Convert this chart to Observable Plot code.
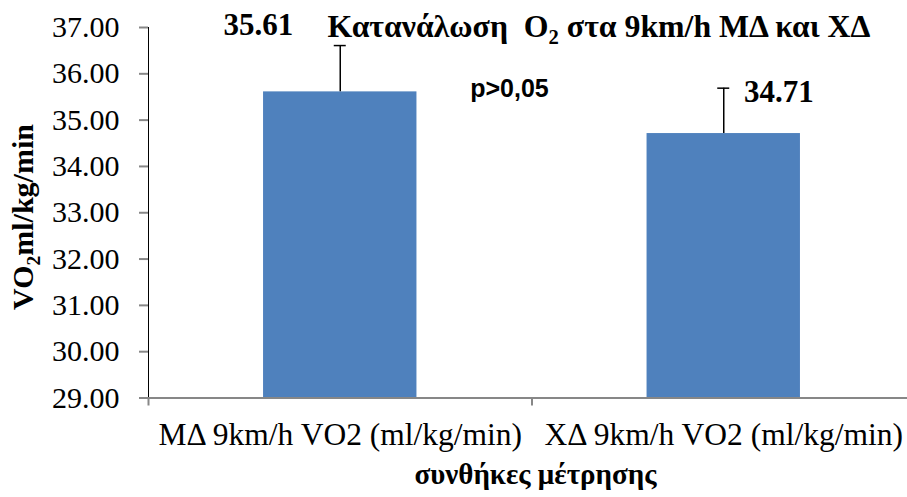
<!DOCTYPE html>
<html>
<head>
<meta charset="utf-8">
<script src="https://cdn.jsdelivr.net/npm/d3@7"></script>
<script src="https://cdn.jsdelivr.net/npm/@observablehq/plot@0.6"></script>
<style>
  body { margin: 0; background: #fff; overflow: hidden; }
  #chart svg { background: #fff; }
  #chart svg [aria-label^="y-axis"] line,
  #chart svg [aria-label^="y-axis"] path { stroke: #878787; stroke-width: 2px; }
  #chart svg [aria-label^="y-axis"] text { font-family: "Liberation Serif", serif; font-size: 30px; fill: #000; }
  #chart svg [aria-label^="x-axis"] text { font-family: "Liberation Serif", serif; font-size: 31.5px; fill: #000; }
</style>
</head>
<body>
<div id="chart"></div>
<script>
// ---- data ----
const categories = ["ΜΔ 9km/h VO2 (ml/kg/min)", "ΧΔ 9km/h VO2 (ml/kg/min)"];
const means = [35.61, 34.71];
const errors = [1.00, 0.98];
const yTicks = [29, 30, 31, 32, 33, 34, 35, 36, 37];
const yMin = 29, yMax = 37;
const titleText = "Κατανάλωση  O₂ στα 9km/h ΜΔ και ΧΔ";
const yTitle = "VO₂ml/kg/min";
const xTitle = "συνθήκες μέτρησης";
const pText = "p>0,05";

const data = categories.map((c, i) => ({cat: c, mean: means[i], err: errors[i], top: means[i] + errors[i]}));

const serif = "Liberation Serif";
const gray = "#878787";
const step = (915 - 148) / 2;
const bandwidth = step * 0.4;

const svg = Plot.plot({
  width: 907,
  height: 497,
  marginLeft: 148,
  marginRight: 0,
  marginTop: 27,
  marginBottom: 99.5,
  style: {fontFamily: serif, background: "#fff"},
  x: {domain: categories, range: [148, 915], paddingInner: 0.6, paddingOuter: 0.3, align: 0.5, round: false,
      tickSize: 0, tickPadding: 25, label: null},
  y: {domain: [yMin, yMax], ticks: yTicks, tickFormat: d3.format(".2f"), tickSize: 9, tickPadding: 20,
      line: true, label: null},
  marks: [
    Plot.barY(data, {x: "cat", y1: yMin, y2: "mean", fill: "#4F81BD"}),
    Plot.ruleY([yMin], {stroke: gray, strokeWidth: 2}),
    Plot.ruleX(categories, {x: d => d, y1: yMin, y2: yMin, dx: -step / 2, insetBottom: -8, stroke: gray, strokeWidth: 2}),
    Plot.ruleX(categories.slice(-1), {x: d => d, y1: yMin, y2: yMin, dx: step / 2 - 1, insetBottom: -8, stroke: gray, strokeWidth: 2}),
    Plot.ruleX(data, {x: "cat", y1: "mean", y2: "top", stroke: "#000", strokeWidth: 1.5}),
    Plot.tickY(data, {x: "cat", y: "top", stroke: "#000", strokeWidth: 1.5, insetLeft: (bandwidth - 12) / 2, insetRight: (bandwidth - 12) / 2}),
    Plot.text(data.slice(0, 1), {x: "cat", y: "top", text: d => d.mean.toFixed(2), dx: -82, dy: -20, lineAnchor: "middle",
      fontFamily: serif, fontWeight: "bold", fontSize: 31, fill: "#000"}),
    Plot.text(data.slice(1, 2), {x: "cat", y: "top", text: d => d.mean.toFixed(2), dx: 55, dy: 3.5, lineAnchor: "middle",
      fontFamily: serif, fontWeight: "bold", fontSize: 31, fill: "#000"}),
    Plot.text([pText], {frameAnchor: "top-left", dx: 361, dy: 61.5, textAnchor: "middle", lineAnchor: "middle",
      fontFamily: "Liberation Sans", fontWeight: "bold", fontSize: 25, fill: "#000"}),
    Plot.text([titleText], {frameAnchor: "top-left", dx: 179, dy: -0.5, textAnchor: "start", lineAnchor: "middle",
      fontFamily: serif, fontWeight: "bold", fontSize: 31.8, fill: "#000"}),
    Plot.text([yTitle], {frameAnchor: "top-left", dx: -125, dy: 189.5, rotate: -90, textAnchor: "middle", lineAnchor: "middle",
      fontFamily: serif, fontWeight: "bold", fontSize: 30, fill: "#000"}),
    Plot.text([xTitle], {frameAnchor: "top-left", dx: 387, dy: 447, textAnchor: "middle", lineAnchor: "middle",
      fontFamily: serif, fontWeight: "bold", fontSize: 29, fill: "#000"})
  ]
});

document.getElementById("chart").appendChild(svg);

// subscript "₂" rendered as a lowered, smaller "2"
d3.select(svg).selectAll("text").each(function () {
  const t = this.textContent;
  if (!t.includes("₂")) return;
  const fs = parseFloat(getComputedStyle(this).fontSize);
  const parts = t.split("₂");
  const sel = d3.select(this);
  sel.text(null);
  sel.append("tspan").text(parts[0]);
  sel.append("tspan").attr("font-size", fs * 0.65).attr("dy", fs * 0.22).text("2");
  sel.append("tspan").attr("dy", -fs * 0.22).text(parts[1]);
});
</script>
</body>
</html>
